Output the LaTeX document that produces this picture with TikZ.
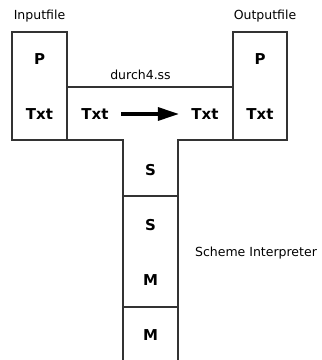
\documentclass[tikz,border=0pt]{standalone}
\usepackage{fontspec}
\setmainfont{DejaVu Sans}
\usetikzlibrary{arrows.meta,positioning}

\begin{document}
\begin{tikzpicture}[
    x=1pt, y=1pt,
    frame/.style={draw=black!80, line width=1.2pt},
    sym/.style={font=\fontsize{15}{17}\selectfont\bfseries},
    caption/.style={font=\fontsize{12.5}{15}\selectfont},
    flow/.style={-{Triangle[length=21pt,width=13pt]}, line width=3.2pt, shorten <=9pt, shorten >=9pt}
]
\useasboundingbox (0,0) rectangle (322,360);

% boxes
\draw[frame] (12,220) rectangle (67,328);
\draw[frame] (233,220) rectangle (287,328);
\draw[frame] (67,220) -- (67,273) -- (233,273) -- (233,220) -- (178,220)
    -- (178,164) -- (123,164) -- (123,220) -- cycle;
\draw[frame] (123,53) rectangle (178,164);
\draw[frame] (123,0) -- (123,53) -- (178,53) -- (178,0);

% labels
\node[caption] (inlabel) at (39.5,344) {Inputfile};
\node[caption] (outlabel) at (265,344) {Outputfile};
\node[caption] (prog) at (140.5,285) {durch4.ss};
\node[caption] (interp) at (256,107) {Scheme Interpreter};

\node[sym] (inP) at (39.5,301) {P};
\node[sym] (inTxt) at (39.5,246) {Txt};
\node[sym] (outP) at (260,301) {P};
\node[sym] (outTxt) at (260,246) {Txt};
\node[sym] (srcTxt) at (95,246) {Txt};
\node[sym] (dstTxt) at (205,246) {Txt};
\node[sym] (langS) at (150.5,190) {S};
\node[sym] (hostS) at (150.5,135) {S};
\node[sym] (hostM) at (150.5,80) {M};
\node[sym] (machM) at (150.5,25) {M};

\draw[flow] (srcTxt) -- (dstTxt);

\end{tikzpicture}
\end{document}
